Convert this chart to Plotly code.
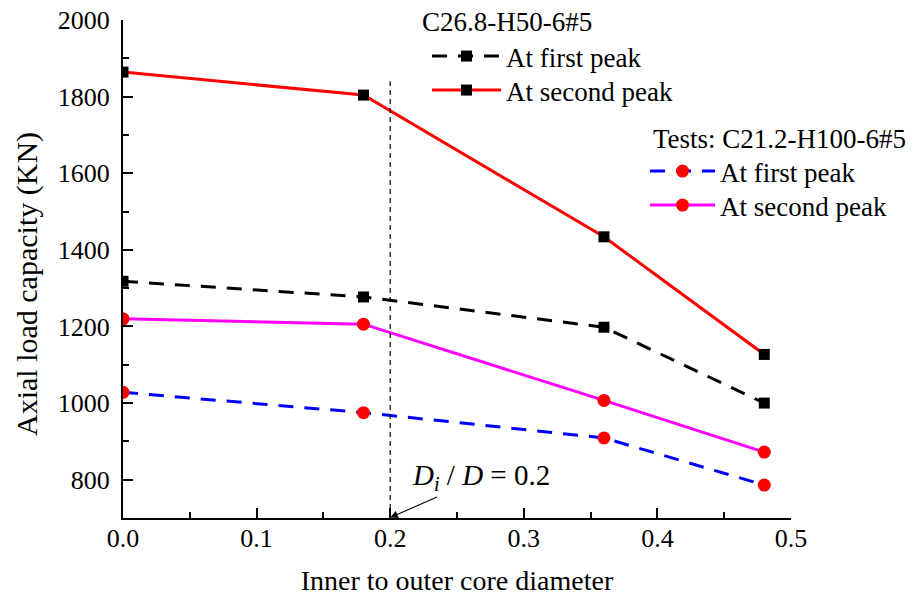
import plotly.graph_objects as go

# Inner-to-outer core diameter ratio
ratio = [0.0, 0.18, 0.36, 0.48]

# Simulated specimen C26.8-H50-6#5 (KN)
sim_first_peak = [1318, 1277, 1198, 1000]
sim_second_peak = [1864, 1804, 1434, 1127]

# Tested specimen C21.2-H100-6#5 (KN)
test_first_peak = [1028, 975, 909, 786]
test_second_peak = [1220, 1206, 1007, 872]

limit_ratio = 0.2

FONT = "Times New Roman"

fig = go.Figure()

fig.add_trace(go.Scatter(
    x=ratio, y=sim_first_peak, name="At first peak", legend="legend",
    mode="lines+markers",
    line=dict(color="black", width=3, dash="15px,11px"),
    marker=dict(symbol="square", size=11, color="black"),
))
fig.add_trace(go.Scatter(
    x=ratio, y=sim_second_peak, name="At second peak", legend="legend2",
    mode="lines+markers",
    line=dict(color="#ff0000", width=3),
    marker=dict(symbol="square", size=11, color="black"),
))
fig.add_trace(go.Scatter(
    x=ratio, y=test_first_peak, name="At first peak", legend="legend3",
    mode="lines+markers",
    line=dict(color="#0000ff", width=3, dash="15px,11px"),
    marker=dict(symbol="circle", size=13, color="#ff0000"),
))
fig.add_trace(go.Scatter(
    x=ratio, y=test_second_peak, name="At second peak", legend="legend4",
    mode="lines+markers",
    line=dict(color="#ff00ff", width=3),
    marker=dict(symbol="circle", size=13, color="#ff0000"),
))

# Reference line at Di/D = 0.2
fig.add_shape(type="line", xref="x", yref="y",
              x0=limit_ratio, x1=limit_ratio, y0=700, y1=1840,
              line=dict(color="black", width=1.2, dash="5px,4px"))

# Label with an arrow pointing at the reference ratio
fig.add_annotation(
    x=limit_ratio, y=701, xref="x", yref="y",
    ax=0.268, ay=806, axref="x", ayref="y",
    showarrow=True, arrowhead=2, arrowsize=1.4, arrowwidth=1.1,
    arrowcolor="black",
    text="<i>D</i><sub><i>i</i></sub> / <i>D</i> = 0.2",
    font=dict(family=FONT, size=29, color="black"),
)

# Legend headings
fig.add_annotation(
    x=(420 - 123) / 668, y=(518 - 22) / 498, xref="paper", yref="paper",
    xanchor="left", yanchor="middle", showarrow=False,
    text="C26.8-H50-6#5", font=dict(family=FONT, size=27, color="black"),
)
fig.add_annotation(
    x=(651 - 123) / 668, y=(518 - 139) / 498, xref="paper", yref="paper",
    xanchor="left", yanchor="middle", showarrow=False,
    text="Tests: C21.2-H100-6#5", font=dict(family=FONT, size=27, color="black"),
)

# Y-axis title
fig.add_annotation(
    x=(27 - 123) / 668, y=(518 - 284) / 498, xref="paper", yref="paper",
    xanchor="center", yanchor="middle", showarrow=False,
    text="Axial load capacity (KN)", textangle=-90,
    font=dict(family=FONT, size=30, color="black"),
)

axis_common = dict(
    showline=True, linecolor="black", linewidth=2,
    ticks="inside", ticklen=10, tickwidth=1.5, tickcolor="black",
    showgrid=False, zeroline=False, mirror=False,
    tickfont=dict(family=FONT, size=26, color="black"),
)


def legend_box(left_px, top_px, width):
    return dict(
        x=(left_px - 123) / 668, y=1 - (top_px - 20) / 498,
        xanchor="left", yanchor="top",
        bgcolor="rgba(0,0,0,0)", itemwidth=width,
        font=dict(family=FONT, size=27, color="black"),
    )


fig.update_layout(
    template="none",
    showlegend=True,
    width=921, height=607,
    margin=dict(l=123, r=130, t=20, b=89),
    paper_bgcolor="white", plot_bgcolor="white",
    font=dict(family=FONT, color="black"),
    xaxis=dict(
        range=[0, 0.5], dtick=0.1, tickformat=".1f",
        minor=dict(ticks="inside", ticklen=6, tickwidth=1.5, tickcolor="black", dtick=0.05),
        title=dict(text="Inner to outer core diameter",
                   font=dict(family=FONT, size=28, color="black"), standoff=18),
        ticklabelstandoff=-4,
        **axis_common,
    ),
    yaxis=dict(
        range=[700, 2000], tick0=800, dtick=200,
        minor=dict(ticks="inside", ticklen=6, tickwidth=1.5, tickcolor="black", dtick=100),
        ticklabelstandoff=6,
        **axis_common,
    ),
    legend=legend_box(427, 32, 69),
    legend2=legend_box(427, 66, 69),
    legend3=legend_box(645, 147, 65),
    legend4=legend_box(645, 181, 65),
)

fig.write_html("out.html")
